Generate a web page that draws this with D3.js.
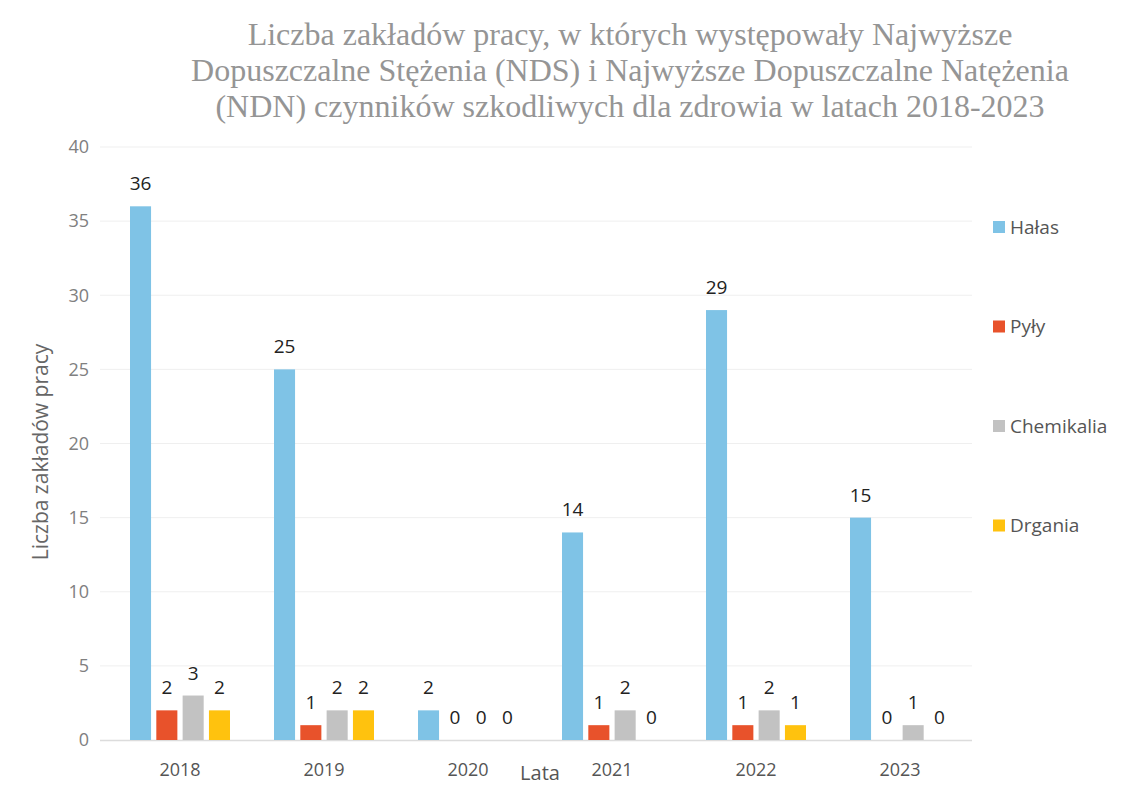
<!DOCTYPE html>
<html>
<head>
<meta charset="utf-8">
<script src="https://cdn.jsdelivr.net/npm/d3@7"></script>
<style>
  body { margin: 0; background: #fff; }
  svg { display: block; }
</style>
</head>
<body>
<script>
let w = 1131;
let h = 790;

let years = ["2018", "2019", "2020", "2021", "2022", "2023"];
let seriesNames = ["Hałas", "Pyły", "Chemikalia", "Drgania"];
let halas = [36, 25, 2, 14, 29, 15];
let pyly = [2, 1, 0, 1, 1, 0];
let chemikalia = [3, 2, 0, 2, 2, 1];
let drgania = [2, 2, 0, 0, 1, 0];
let yTicks = [0, 5, 10, 15, 20, 25, 30, 35, 40];
let colors = ["#7fc3e6", "#e8522b", "#c2c2c2", "#ffc20e"];

let titleLines = [
  "Liczba zakładów pracy, w których występowały Najwyższe",
  "Dopuszczalne Stężenia (NDS) i Najwyższe Dopuszczalne Natężenia",
  "(NDN) czynników szkodliwych dla zdrowia w latach 2018-2023"
];

let allSeries = [halas, pyly, chemikalia, drgania];

// flatten for drawing
let dataset = [];
years.forEach((y, i) => {
  allSeries.forEach((s, j) => {
    dataset.push({ year: y, series: seriesNames[j], value: s[i], idx: j });
  });
});

let svg = d3.select("body")
  .append("svg")
  .attr("width", w)
  .attr("height", h);

// title
svg.append("g")
  .selectAll("text")
  .data(titleLines)
  .enter()
  .append("text")
  .attr("x", 630)
  .attr("y", (d, i) => 45 + i * 36)
  .attr("text-anchor", "middle")
  .style("font-family", "'Liberation Serif', 'DejaVu Serif', serif")
  .style("font-size", "32px")
  .style("fill", "#959595")
  .text(d => d);

let yScale = d3.scaleLinear()
  .domain([0, 40])
  .range([740, 147]);

let xScale = d3.scaleBand()
  .domain(years)
  .range([108, 972]);

let inner = d3.scaleBand()
  .domain(seriesNames)
  .range([22, 122])
  .paddingInner(0.2);

// gridlines
svg.append("g")
  .selectAll("line")
  .data(yTicks.filter(t => t > 0))
  .enter()
  .append("line")
  .attr("x1", 100)
  .attr("x2", 972)
  .attr("y1", d => yScale(d))
  .attr("y2", d => yScale(d))
  .style("stroke", "#efefef")
  .style("stroke-width", 1);

svg.append("line")
  .attr("x1", 100)
  .attr("x2", 972)
  .attr("y1", yScale(0) + 0.5)
  .attr("y2", yScale(0) + 0.5)
  .style("stroke", "#dcdcdc")
  .style("stroke-width", 1.5);

// y axis (labels only)
let yAxis = d3.axisLeft(yScale)
  .tickValues(yTicks)
  .tickSize(0)
  .tickPadding(0);

let yG = svg.append("g")
  .attr("transform", "translate(89,0)")
  .call(yAxis);
yG.select(".domain").remove();
yG.selectAll("text")
  .style("font-family", "'Open Sans', 'Noto Sans', sans-serif")
  .style("font-size", "18px")
  .style("fill", "#808080");

// x axis (labels only)
let xAxis = d3.axisBottom(xScale).tickSize(0).tickPadding(0);
let xG = svg.append("g")
  .attr("transform", "translate(0,763)")
  .call(xAxis);
xG.select(".domain").remove();
xG.selectAll("text")
  .style("font-family", "'Open Sans', 'Noto Sans', sans-serif")
  .style("font-size", "18px")
  .style("fill", "#555");

// axis titles
svg.append("text")
  .attr("transform", "translate(48,452) rotate(-90)")
  .attr("text-anchor", "middle")
  .style("font-family", "'Open Sans', 'Noto Sans', sans-serif")
  .style("font-size", "21px")
  .style("fill", "#666")
  .text("Liczba zakładów pracy");

svg.append("text")
  .attr("x", 540)
  .attr("y", 780)
  .attr("text-anchor", "middle")
  .style("font-family", "'Open Sans', 'Noto Sans', sans-serif")
  .style("font-size", "20px")
  .style("fill", "#555")
  .text("Lata");

// bars
svg.append("g")
  .selectAll("rect")
  .data(dataset)
  .enter()
  .append("rect")
  .attr("x", d => xScale(d.year) + inner(d.series))
  .attr("y", d => yScale(d.value))
  .attr("width", inner.bandwidth())
  .attr("height", d => yScale(0) - yScale(d.value))
  .style("fill", d => colors[d.idx]);

// value labels
svg.append("g")
  .selectAll("text")
  .data(dataset)
  .enter()
  .append("text")
  .attr("x", d => xScale(d.year) + inner(d.series) + inner.bandwidth() / 2)
  .attr("y", d => yScale(d.value) - 16)
  .attr("text-anchor", "middle")
  .style("font-family", "'Open Sans', 'Noto Sans', sans-serif")
  .style("font-size", "19px")
  .style("fill", "#222")
  .text(d => d.value);

// legend
let legend = svg.selectAll(".legend")
  .data(seriesNames)
  .enter()
  .append("g")
  .attr("class", "legend")
  .attr("transform", (d, i) => "translate(993," + (227 + i * 99.5) + ")");

legend.append("rect")
  .attr("x", 0)
  .attr("y", -6)
  .attr("width", 12)
  .attr("height", 12)
  .style("fill", (d, i) => colors[i]);

legend.append("text")
  .attr("x", 17)
  .attr("y", 0)
  .attr("dy", ".35em")
  .style("font-family", "'Open Sans', 'Noto Sans', sans-serif")
  .style("font-size", "19px")
  .style("fill", "#555")
  .text(d => d);
</script>
</body>
</html>
